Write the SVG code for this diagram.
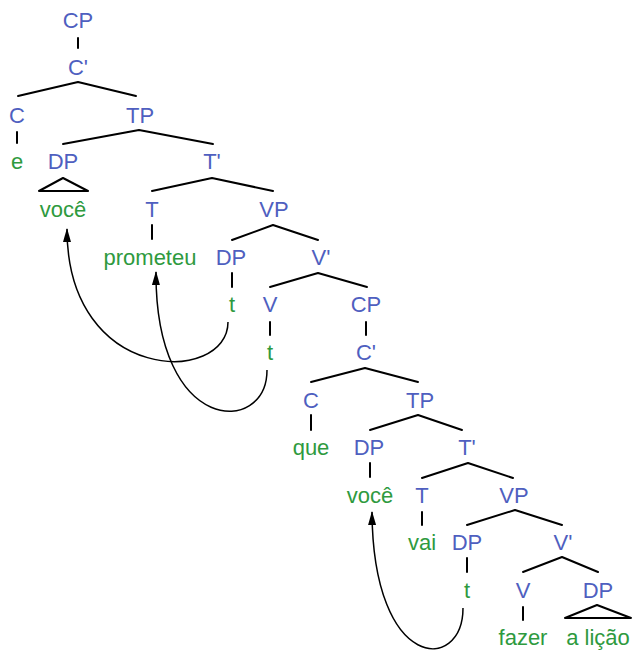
<svg xmlns="http://www.w3.org/2000/svg" width="633" height="650" viewBox="0 0 633 650">
  <defs>
    <style>
      .cat { font-family: "Liberation Sans", Arial, sans-serif; font-size: 22px; fill: #4f5fc0; text-anchor: middle; }
      .word { font-family: "Liberation Sans", Arial, sans-serif; font-size: 22px; fill: #2e9a3e; text-anchor: middle; }
      .br { stroke: #000; stroke-width: 2; fill: none; stroke-linecap: round; stroke-linejoin: round; }
      .mv { stroke: #000; stroke-width: 1.5; fill: none; marker-end: url(#head); }
    </style>
    <marker id="head" viewBox="0 0 14 8" refX="13" refY="4" markerWidth="14" markerHeight="8" markerUnits="userSpaceOnUse" orient="auto">
      <path d="M0,0 L14,4 L0,8 Z" fill="#000"/>
    </marker>
  </defs>
  <rect width="633" height="650" fill="#fff"/>

  <!-- tree branches -->
  <g id="branches">
    <path class="br" d="M78,38 V48"/>
    <path class="br" d="M18,96 L78,82 L136,96"/>
    <path class="br" d="M17,132 V143"/>
    <path class="br" d="M63,144 L139,130 L213,144"/>
    <path class="br" d="M39,191 L63,178 L88,191 Z"/>
    <path class="br" d="M152,191 L212,178 L273,191"/>
    <path class="br" d="M152,225 V239"/>
    <path class="br" d="M232,240 L273,225 L318,240"/>
    <path class="br" d="M232,273 V287"/>
    <path class="br" d="M270,287 L318,273 L367,287"/>
    <path class="br" d="M270,322 V335"/>
    <path class="br" d="M366,322 V335"/>
    <path class="br" d="M311,382 L365,368 L418,382"/>
    <path class="br" d="M311,415 V430"/>
    <path class="br" d="M370,430 L418,415 L462,430"/>
    <path class="br" d="M370,463 V477"/>
    <path class="br" d="M422,478 L468,463 L513,478"/>
    <path class="br" d="M422,512 V525"/>
    <path class="br" d="M467,525 L515,510 L562,525"/>
    <path class="br" d="M467,558 V572"/>
    <path class="br" d="M523,572 L562,557 L598,572"/>
    <path class="br" d="M523,607 V620"/>
    <path class="br" d="M565,618 L597,605 L631,618 Z"/>
  </g>

  <!-- movement arrows -->
  <g id="connectors">
    <path class="mv" d="M228,322 C228,385 67,385 67,229"/>
    <path class="mv" d="M267,370 C267,436 155,436 156,272"/>
    <path class="mv" d="M463,608 C463,673 373,673 372,512"/>
  </g>

  <g id="n-cp1"><text class="cat" x="78" y="28">CP</text></g>
  <g id="n-cbar1"><text class="cat" x="78" y="75">C'</text></g>
  <g id="n-c1"><text class="cat" x="17" y="123">C</text></g>
  <g id="n-e"><text class="word" x="17" y="169">e</text></g>
  <g id="n-tp1"><text class="cat" x="140" y="123">TP</text></g>
  <g id="n-dp1"><text class="cat" x="63" y="169">DP</text></g>
  <g id="n-voce1"><text class="word" x="63" y="217">você</text></g>
  <g id="n-tbar1"><text class="cat" x="212" y="169">T'</text></g>
  <g id="n-t1"><text class="cat" x="152" y="217">T</text></g>
  <g id="n-prometeu"><text class="word" x="150" y="265">prometeu</text></g>
  <g id="n-vp1"><text class="cat" x="274" y="217">VP</text></g>
  <g id="n-dp2"><text class="cat" x="231" y="265">DP</text></g>
  <g id="n-trace1"><text class="word" x="232" y="312">t</text></g>
  <g id="n-vbar1"><text class="cat" x="321" y="265">V'</text></g>
  <g id="n-v1"><text class="cat" x="270" y="312">V</text></g>
  <g id="n-trace2"><text class="word" x="270" y="360">t</text></g>
  <g id="n-cp2"><text class="cat" x="366" y="312">CP</text></g>
  <g id="n-cbar2"><text class="cat" x="366" y="360">C'</text></g>
  <g id="n-c2"><text class="cat" x="311" y="408">C</text></g>
  <g id="n-que"><text class="word" x="311" y="455">que</text></g>
  <g id="n-tp2"><text class="cat" x="420" y="408">TP</text></g>
  <g id="n-dp3"><text class="cat" x="369" y="455">DP</text></g>
  <g id="n-voce2"><text class="word" x="370" y="503">você</text></g>
  <g id="n-tbar2"><text class="cat" x="467" y="455">T'</text></g>
  <g id="n-t2"><text class="cat" x="422" y="503">T</text></g>
  <g id="n-vai"><text class="word" x="422" y="550">vai</text></g>
  <g id="n-vp2"><text class="cat" x="514" y="503">VP</text></g>
  <g id="n-dp4"><text class="cat" x="467" y="550">DP</text></g>
  <g id="n-trace3"><text class="word" x="467" y="598">t</text></g>
  <g id="n-vbar2"><text class="cat" x="563" y="550">V'</text></g>
  <g id="n-v2"><text class="cat" x="523" y="598">V</text></g>
  <g id="n-fazer"><text class="word" x="523" y="645">fazer</text></g>
  <g id="n-dp5"><text class="cat" x="598" y="598">DP</text></g>
  <g id="n-alicao"><text class="word" x="598" y="645">a lição</text></g>
</svg>
